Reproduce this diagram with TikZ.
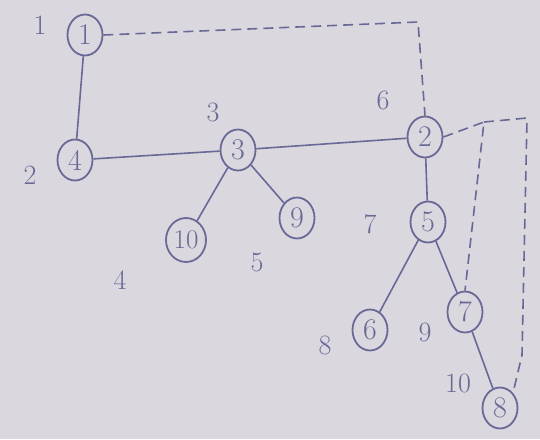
\documentclass[tikz,border=0pt]{standalone}
\usepackage{fontspec}
\usetikzlibrary{shapes.geometric}
\definecolor{paper}{HTML}{DAD8DE}
\definecolor{ink}{HTML}{6A6896}
\begin{document}
\begin{tikzpicture}[x=1pt,y=-1pt,
  vtx/.style={ellipse,draw=ink,line width=1.8pt,minimum width=35pt,minimum height=41pt,inner sep=0pt,text=ink,font=\fontsize{30}{32}\selectfont},
  num/.style={text=ink,font=\fontsize{28}{30}\selectfont},
  tree/.style={draw=ink,line width=1.6pt},
  back/.style={draw=ink,line width=1.6pt,dashed,dash pattern=on 10pt off 6pt}]
\fill[paper] (0,0) rectangle (540,439);
\useasboundingbox (0,0) rectangle (540,439);
% vertices
\node[vtx] (n1) at (85,35) {1};
\node[vtx] (n4) at (75,160) {4};
\node[vtx] (n3) at (238,150) {3};
\node[vtx,minimum width=40pt,minimum height=44pt,font=\fontsize{27}{28}\selectfont] (n10) at (186,240) {10};
\node[vtx] (n9) at (297,218) {9};
\node[vtx] (n2) at (425,137) {2};
\node[vtx] (n5) at (428,222) {5};
\node[vtx] (n6) at (370,330) {6};
\node[vtx] (n7) at (465,312) {7};
\node[vtx] (n8) at (500,408) {8};
% discovery numbers
\node[num] (l1) at (40,25) {1};
\node[num] (l2) at (30,175) {2};
\node[num] (l3) at (213,112) {3};
\node[num] (l4) at (120,280) {4};
\node[num] (l5) at (257,262) {5};
\node[num] (l6) at (383,100) {6};
\node[num] (l7) at (370,224) {7};
\node[num] (l8) at (325,345) {8};
\node[num] (l9) at (425,332) {9};
\node[num] (l10) at (458,383) {10};
% tree edges
\draw[tree] (n1) -- (n4);
\draw[tree] (n4) -- (n3);
\draw[tree] (n3) -- (n2);
\draw[tree] (n3) -- (n10);
\draw[tree] (n3) -- (n9);
\draw[tree] (n2) -- (n5);
\draw[tree] (n5) -- (n6);
\draw[tree] (n5) -- (n7);
\draw[tree] (n7) -- (n8);
% back edges
\coordinate (c1) at (418,22);
\coordinate (c2) at (484,122);
\coordinate (c3) at (527,118);
\coordinate (c4) at (522,355);
\draw[back] (n1.east) -- (c1) -- (n2.north);
\draw[back] (n2.east) -- (c2) -- (n7.north);
\draw[back] (c2) -- (c3) -- (c4) -- (n8.north east);
\end{tikzpicture}
\end{document}
